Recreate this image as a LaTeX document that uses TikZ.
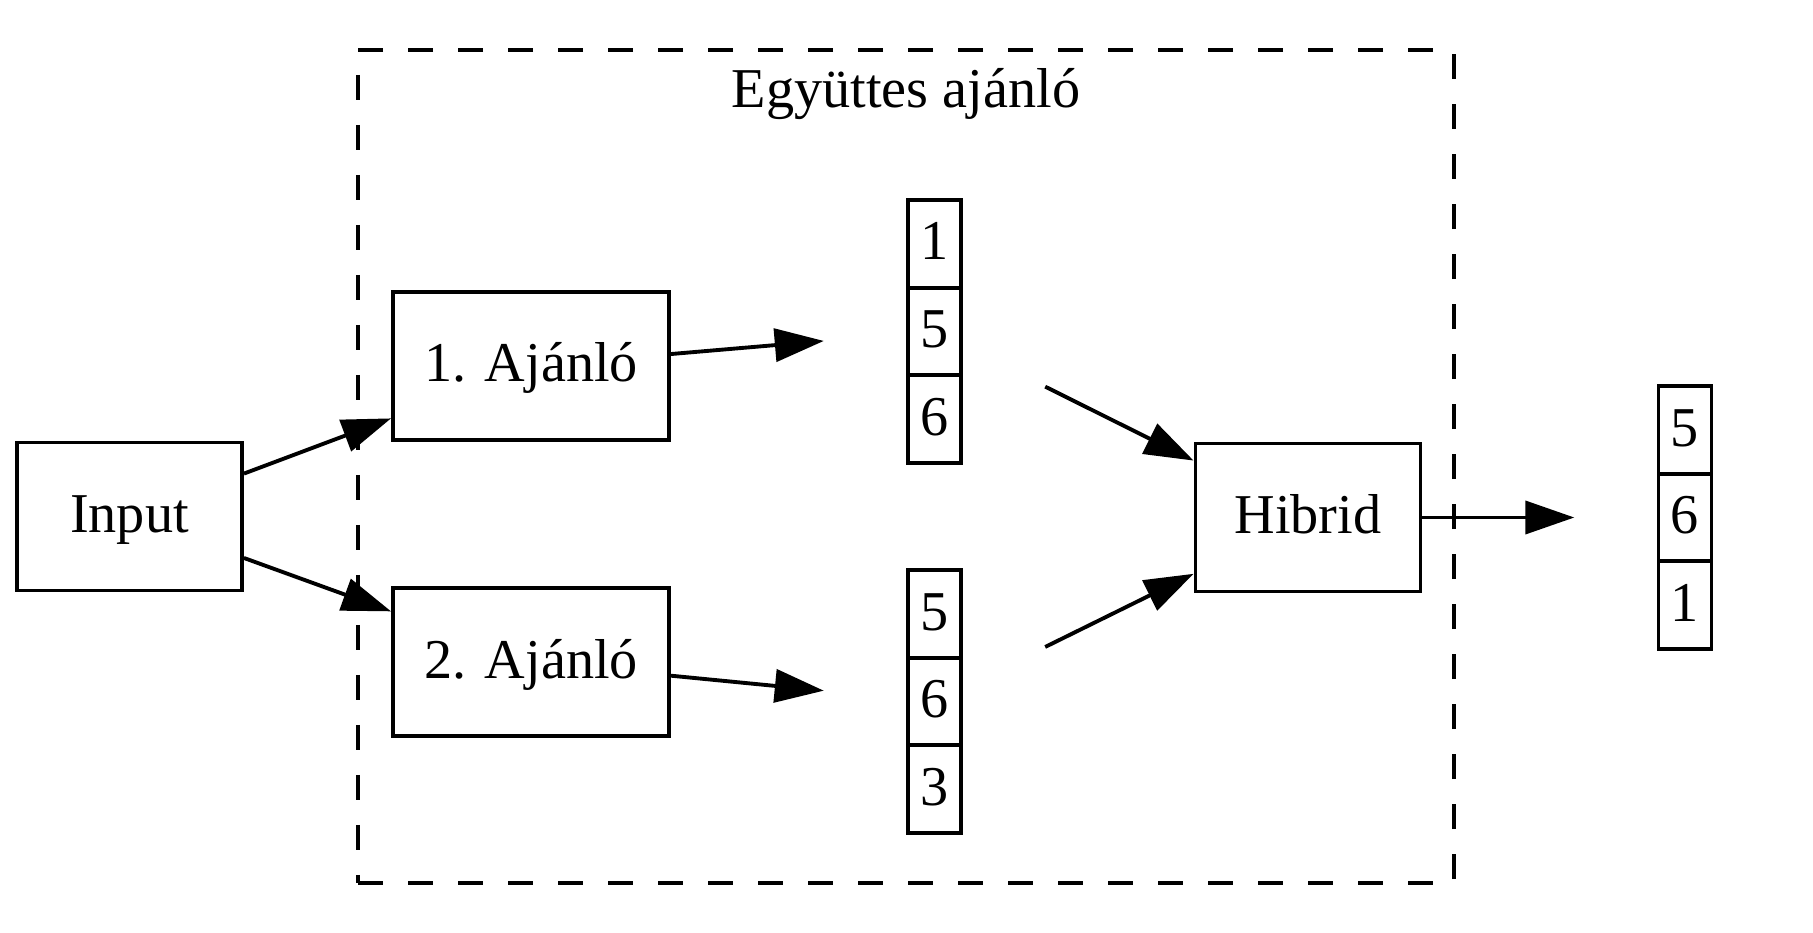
\documentclass[tikz,border=0pt]{standalone}
\usepackage{fontspec}
\setmainfont{Liberation Serif}
\usepackage{tikz}
\usetikzlibrary{arrows.meta, positioning}

\begin{document}
\begin{tikzpicture}[
    box/.style={draw, line width=1.1pt, minimum width=2.25cm, minimum height=1.48cm, text height=0.42cm, text depth=0.1cm, font=\fontsize{16}{19}\selectfont},
    wide/.style={box, minimum width=2.76cm},
    cell/.style={draw, line width=1.1pt, minimum width=0.53cm, minimum height=0.875cm, inner sep=0pt, text height=0.42cm, text depth=0.1cm, font=\fontsize{16}{19}\selectfont},
    slot/.style={minimum width=2.2cm, minimum height=2.7cm, inner sep=0pt},
    cluster/.style={draw, line width=1.1pt, dash pattern=on 0.25cm off 0.25cm, minimum width=10.96cm, minimum height=8.33cm},
    arr/.style={-{Triangle[length=4.9mm, width=3.3mm]}, line width=1.1pt}
]
    \useasboundingbox (0,0) rectangle (18.13,-9.33);

    % Ensemble recommender
    \node[cluster] (ens) at (9.06,-4.665) {};
    \node[anchor=base, font=\fontsize{16}{19}\selectfont] (title) at (9.06,-1.08) {Együttes ajánló};

    % Boxes
    \node[box] (inp) at (1.295,-5.165) {Input};
    \node[wide] (rec1) at (5.31,-3.66) {1. Ajánló};
    \node[wide] (rec2) at (5.31,-6.62) {2. Ajánló};
    \node[box] (hyb) at (13.08,-5.175) {Hibrid};

    % Lists
    \node[slot] (list1) at (9.345,-3.315) {};
    \node[cell] (list1a) at (9.345,-2.44) {1};
    \node[cell] (list1b) at (9.345,-3.315) {5};
    \node[cell] (list1c) at (9.345,-4.19) {6};

    \node[slot] (list2) at (9.345,-7.015) {};
    \node[cell] (list2a) at (9.345,-6.14) {5};
    \node[cell] (list2b) at (9.345,-7.015) {6};
    \node[cell] (list2c) at (9.345,-7.89) {3};

    \node[slot] (list3) at (16.85,-5.175) {};
    \node[cell] (list3a) at (16.85,-4.30) {5};
    \node[cell] (list3b) at (16.85,-5.175) {6};
    \node[cell] (list3c) at (16.85,-6.05) {1};

    % Connections
    \draw[arr] (inp) -- (rec1);
    \draw[arr] (inp) -- (rec2);
    \draw[arr] (rec1) -- (list1);
    \draw[arr] (rec2) -- (list2);
    \draw[arr] (list1) -- (hyb);
    \draw[arr] (list2) -- (hyb);
    \draw[arr] (hyb) -- (list3);
\end{tikzpicture}
\end{document}
